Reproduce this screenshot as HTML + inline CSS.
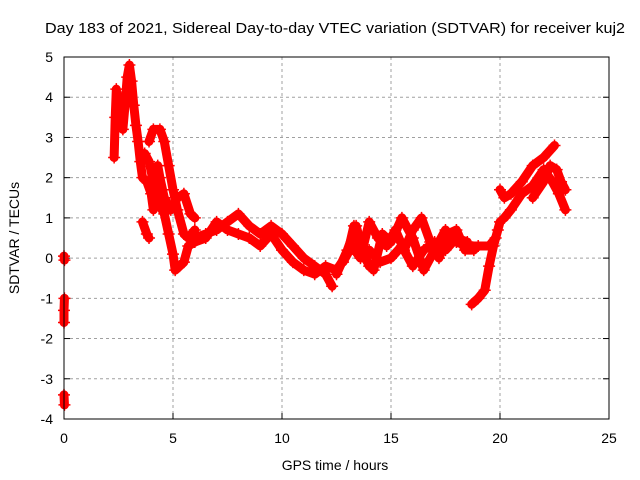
<!DOCTYPE html>
<html><head><meta charset="utf-8"><style>
body{margin:0;background:#fff}
svg{display:block;font-family:"Liberation Sans",sans-serif}
</style></head><body>
<svg id="chart" width="640" height="480" viewBox="0 0 640 480">
<text x="335" y="33" text-anchor="middle" font-size="15" textLength="580" lengthAdjust="spacingAndGlyphs">Day 183 of 2021, Sidereal Day-to-day VTEC variation (SDTVAR) for receiver kuj2</text>
<g id="grid"></g>
<g id="ticks"></g>
<g id="series"></g>
<rect x="64" y="57" width="545" height="362" fill="none" stroke="#000" stroke-width="1"/>
<text x="335" y="470" text-anchor="middle" font-size="14">GPS time / hours</text>
<text transform="translate(19,238) rotate(-90)" text-anchor="middle" font-size="14">SDTVAR / TECUs</text>
</svg>
<script>
const xTicks=[0,5,10,15,20,25];
const yTicks=[-4,-3,-2,-1,0,1,2,3,4,5];
const arcA1=[[0,0.05],[0.02,-0.05]];
const arcA2=[[0.02,-1.0],[0,-1.3],[0,-1.6]];
const arcA3=[[0,-3.4],[0.02,-3.65]];
const arcB=[[2.3,2.5],[2.35,3.5],[2.4,4.2],[2.5,3.6],[2.6,4.0],[2.7,3.2],[2.8,3.8],[2.9,4.5],[3.0,4.8],[3.1,4.4],[3.2,3.8],[3.3,3.3],[3.4,2.9],[3.5,2.4],[3.6,2.0],[3.8,1.9],[4.0,1.6],[4.1,1.2]];
const arcC=[[3.9,2.9],[4.1,3.2],[4.4,3.2],[4.6,2.9],[4.8,2.3],[5.0,1.7],[5.2,1.2],[5.5,0.6],[5.7,0.5],[6.0,0.7]];
const arcD=[[3.7,2.6],[3.9,2.4],[4.1,1.9],[4.3,1.4],[4.6,1.1],[4.8,0.6],[5.0,0.1],[5.1,-0.3],[5.3,-0.2],[5.5,-0.1],[5.7,0.3],[6.0,0.4]];
const arcE=[[4.3,2.3],[4.4,2.0],[4.6,1.5],[4.9,1.2],[5.2,1.5],[5.5,1.6],[5.8,1.1],[6.0,1.0]];
const arcF=[[3.6,0.9],[3.8,0.6],[3.9,0.5]];
const arcG=[[6.0,0.5],[6.5,0.6],[7.0,0.7],[7.5,0.9],[8.0,1.1],[8.5,0.8],[9.0,0.6],[9.5,0.8],[10.0,0.6],[10.5,0.3],[11.0,0.0],[11.5,-0.2],[12.0,-0.4],[12.3,-0.7]];
const arcH=[[6.0,0.4],[6.5,0.5],[7.0,0.9],[7.5,0.7],[8.0,0.6],[8.5,0.5],[9.0,0.3],[9.5,0.6],[10.0,0.2],[10.5,-0.1],[11.0,-0.3],[11.5,-0.4],[12.0,-0.2],[12.5,-0.3],[13.0,0.1],[13.3,0.8],[13.6,0.3],[14.0,-0.2]];
const arcI=[[12.5,-0.4],[13.0,0.2],[13.4,0.8],[13.8,0.0],[14.2,-0.3],[14.6,0.6],[15.0,0.4],[15.5,1.0],[16.0,0.5],[16.5,-0.3],[17.0,0.2],[17.5,0.7],[18.0,0.4],[18.5,0.3],[19.0,0.3],[19.5,0.3],[19.8,0.5]];
const arcJ=[[12.8,-0.1],[13.2,0.3],[13.6,0.0],[14.0,0.9],[14.4,0.5],[14.8,0.3],[15.2,0.7],[15.6,0.2],[16.0,0.7],[16.4,1.0],[16.8,0.4],[17.2,0.0],[17.6,0.6],[18.0,0.7],[18.4,0.2],[18.8,0.2]];
const arcK=[[14.0,0.2],[14.5,-0.1],[15.0,0.0],[15.5,0.3],[16.0,-0.2],[16.5,0.2],[17.0,0.4],[17.5,0.2],[18.0,0.5],[18.5,0.4]];
const arcL=[[18.7,-1.15],[19.0,-1.0],[19.3,-0.8],[19.5,-0.2],[19.7,0.3],[19.9,0.7],[20.0,0.9]];
const arcM=[[20.0,1.7],[20.2,1.5],[20.5,1.6],[21.0,1.9],[21.5,2.3],[22.0,2.5],[22.5,2.8]];
const arcN=[[20.2,1.0],[20.5,1.2],[21.0,1.6],[21.5,1.8],[22.0,2.2],[22.4,1.9],[22.7,1.6],[23.0,1.2]];
const arcO=[[21.5,1.5],[22.0,1.9],[22.3,2.3],[22.6,2.2],[22.8,1.9],[23.0,1.7]];
const arcs=[arcA1,arcA2,arcA3,arcB,arcC,arcD,arcE,arcF,arcG,arcH,arcI,arcJ,arcK,arcL,arcM,arcN,arcO];
const NS="http://www.w3.org/2000/svg";
const X=v=>64+v*545/25, Y=v=>419-(v+4)*362/9;
const grid=document.getElementById('grid'), ticks=document.getElementById('ticks'), ser=document.getElementById('series');
function mk(t,a,p){const e=document.createElementNS(NS,t);for(const k in a)e.setAttribute(k,a[k]);p.appendChild(e);return e;}
xTicks.forEach(t=>{const x=X(t);
 if(t>0&&t<25){const g=mk('line',{x1:x,x2:x,y1:57,y2:419,stroke:'#a0a0a0','stroke-dasharray':'3,3'},grid);
 
 }
 const tl=mk('line',{x1:x,x2:x,y1:419,y2:413,stroke:'#000'},ticks);
 
 
 const tx=mk('text',{x:x,y:443,'text-anchor':'middle','font-size':14},ticks);tx.textContent=t;
 
 });
yTicks.forEach(t=>{const y=Y(t);
 if(t>-4&&t<5){const g=mk('line',{x1:64,x2:609,y1:y,y2:y,stroke:'#a0a0a0','stroke-dasharray':'3,3'},grid);
 
 }
 const tl=mk('line',{x1:64,x2:70,y1:y,y2:y,stroke:'#000'},ticks);
 
 
 const tr=mk('line',{x1:603,x2:609,y1:y,y2:y,stroke:'#000'},ticks);
 
 
 const tx=mk('text',{x:53,y:y+5,'text-anchor':'end','font-size':14},ticks);tx.textContent=t;
 
 });
arcs.forEach(a=>{
 const pl=mk('polyline',{points:a.map(p=>X(p[0])+','+Y(p[1])).join(' '),fill:'none',stroke:'#f00','stroke-width':9,'stroke-linejoin':'round','stroke-linecap':'round'},ser);
 
 
 a.forEach(p=>{const x=X(p[0]),y=Y(p[1]);
  const m=mk('path',{d:`M${x-6},${y}h12M${x},${y-6}v12`,stroke:'#f00','stroke-width':1.5},ser);
  
  });
});
</script>
</body></html>
